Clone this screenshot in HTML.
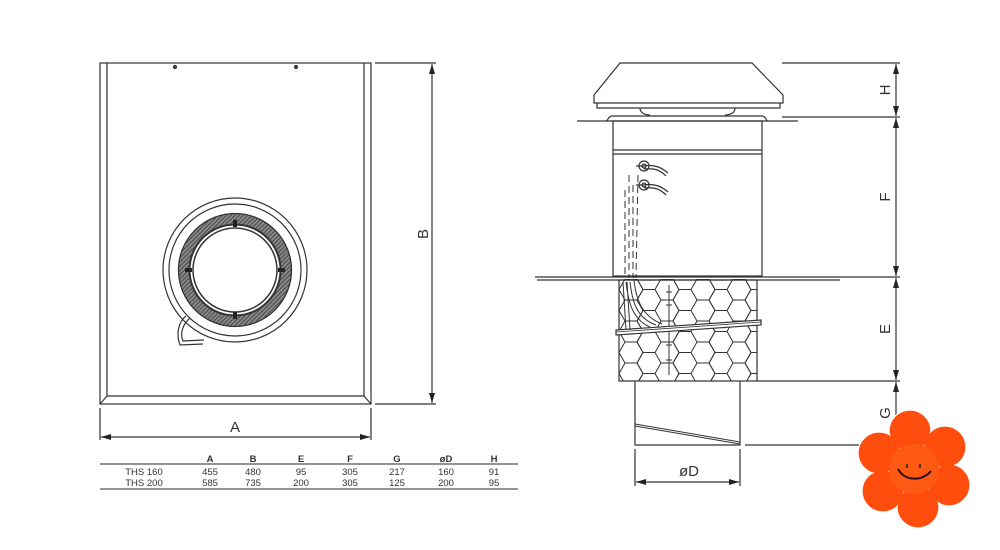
<!DOCTYPE html>
<html><head><meta charset="utf-8"><style>
html,body{margin:0;padding:0;background:#fff;width:1000px;height:550px;overflow:hidden}
svg{display:block}
text{font-family:"Liberation Sans",sans-serif;fill:#333}
</style></head><body>
<svg width="1000" height="550" viewBox="0 0 1000 550" xmlns="http://www.w3.org/2000/svg">
<defs>
<marker id="ar" viewBox="0 0 10 6" refX="10" refY="3" markerWidth="10" markerHeight="6" orient="auto-start-reverse" markerUnits="userSpaceOnUse"><path d="M0,0 L10,3 L0,6z" fill="#222"/></marker>
<pattern id="hatch" width="3" height="3" patternUnits="userSpaceOnUse" patternTransform="rotate(45)"><rect width="3" height="3" fill="#888"/><line x1="0" y1="0" x2="0" y2="3" stroke="#333" stroke-width="1.5"/></pattern>
<pattern id="hex" width="36" height="21" patternUnits="userSpaceOnUse" x="619" y="279">
<path d="M0,10.5 L6,0 L18,0 L24,10.5 L18,21 L6,21 Z M24,10.5 L36,10.5" fill="none" stroke="#333" stroke-width="1"/>
<path d="M18,0 L24,10.5 M18,21 L24,10.5" fill="none" stroke="#333" stroke-width="1"/>
</pattern>
<clipPath id="hc"><rect x="619" y="279" width="138" height="102"/></clipPath>
</defs>
<g stroke="#333" fill="none" stroke-width="1.2">
<rect x="100" y="63" width="271" height="341"/>
<path d="M107,63 L107,396 L364,396 L364,63"/>
<path d="M100,404 L107,396 M371,404 L364,396"/>
<circle cx="175" cy="67" r="1.5" fill="#555"/><circle cx="296" cy="67" r="1.5" fill="#555"/>
<circle cx="235" cy="270" r="72"/>
<circle cx="235" cy="270" r="66"/>
<circle cx="235" cy="270" r="51" stroke="url(#hatch)" stroke-width="11"/>
<circle cx="235" cy="270" r="56.5" stroke-width="1.3"/>
<circle cx="235" cy="270" r="45.5" stroke-width="2"/>
<circle cx="235" cy="270" r="42" stroke-width="1.5"/>
<g fill="#222" stroke="none"><rect x="233" y="220" width="4" height="7"/><rect x="233" y="312" width="4" height="7"/><rect x="185" y="268" width="7" height="4"/><rect x="278" y="268" width="7" height="4"/></g>
<path d="M186,316 C178,322 176,335 180,345 L203,344 M190,318 C182,325 180,334 183,341 L204,340"/>
<path d="M375,63 L436,63 M375,404 L436,404 M100,408 L100,440 M371,408 L371,440"/>
<line x1="432" y1="64" x2="432" y2="403" marker-start="url(#ar)" marker-end="url(#ar)"/>
<line x1="101" y1="437" x2="370" y2="437" marker-start="url(#ar)" marker-end="url(#ar)"/>
<path d="M100,464 L518,464 M100,489 L518,489" stroke="#555"/>
<path d="M620,63 L752,63 L783,95 L783,103 L594,103 L594,95 Z"/>
<path d="M597,103 L597,108 L780,108 L780,103"/>
<path d="M640,108 C640,113 645,115 650,115 M735,108 C735,113 730,115 725,115"/>
<path d="M577,121 L798,121 M612,116 L762,116 M612,116 C608,116 608,121 606,121 M762,116 C766,116 766,121 768,121"/>
<path d="M782,63 L900,63 M782,117 L900,117"/>
<rect x="613" y="121" width="149" height="155"/>
<path d="M613,150 L762,150 M613,154 L762,154"/>
<path d="M535,277 L900,277 M537,280 L840,280"/>
<rect x="619" y="280" width="138" height="101"/>
<rect x="619" y="279" width="138" height="102" fill="url(#hex)" stroke="none" clip-path="url(#hc)"/>
<path d="M757,381 L900,381"/>
<path d="M669,285 L669,375 M666,292 L672,292 M666,305 L672,305 M666,345 L672,345 M666,360 L672,360" stroke-width="1"/>
<path d="M616,330 L761,320 L761,325 L616,335 Z" fill="#fff"/>
<path d="M616,332 L761,322" stroke-width="0.8"/>
<path d="M626,282 C628,300 632,320 650,327 M630,282 C632,300 636,318 656,325 M634,280 C636,300 642,316 662,324 M623,282 L626,330 M627,282 L630,330" stroke-width="1"/>
<path d="M625,190 L625,278 M629,175 L629,278 M633,185 L633,278 M638,175 L636,278" stroke-dasharray="7,4" stroke-width="1"/>
<circle cx="644" cy="166" r="5"/><circle cx="644" cy="166" r="2"/>
<circle cx="644" cy="185" r="5"/><circle cx="644" cy="185" r="2"/>
<path d="M636,166 L644,166 C655,164 662,168 668,173 M644,169 C655,168 660,170 666,176 M636,185 L644,185 C655,183 662,187 668,192 M644,188 C655,187 660,189 666,195"/>
<path d="M635,381 L635,445 L740,445 L740,381 M745,445 L900,445"/>
<path d="M635,424 L740,442 M635,426 L740,444" stroke-width="1"/>
<path d="M635,449 L635,486 M740,449 L740,486"/>
<line x1="636" y1="482" x2="739" y2="482" marker-start="url(#ar)" marker-end="url(#ar)"/>
<line x1="896" y1="64" x2="896" y2="116" marker-start="url(#ar)" marker-end="url(#ar)"/>
<line x1="896" y1="118" x2="896" y2="276" marker-start="url(#ar)" marker-end="url(#ar)"/>
<line x1="896" y1="278" x2="896" y2="380" marker-start="url(#ar)" marker-end="url(#ar)"/>
<line x1="896" y1="382" x2="896" y2="444" marker-start="url(#ar)" marker-end="url(#ar)"/>
</g>
<g font-size="15">
<text x="235" y="432" text-anchor="middle">A</text>
<text x="689" y="476" text-anchor="middle">øD</text>
<text transform="translate(428,234) rotate(-90)" text-anchor="middle">B</text>
<text transform="translate(890,90) rotate(-90)" text-anchor="middle">H</text>
<text transform="translate(890,197) rotate(-90)" text-anchor="middle">F</text>
<text transform="translate(890,329) rotate(-90)" text-anchor="middle">E</text>
<text transform="translate(890,413) rotate(-90)" text-anchor="middle">G</text>
</g>
<g font-size="9.5" text-anchor="middle">
<text x="210" y="462" font-weight="bold">A</text><text x="253" y="462" font-weight="bold">B</text><text x="301" y="462" font-weight="bold">E</text><text x="350" y="462" font-weight="bold">F</text><text x="397" y="462" font-weight="bold">G</text><text x="446" y="462" font-weight="bold">øD</text><text x="494" y="462" font-weight="bold">H</text>
<text x="144" y="475">THS 160</text><text x="210" y="475">455</text><text x="253" y="475">480</text><text x="301" y="475">95</text><text x="350" y="475">305</text><text x="397" y="475">217</text><text x="446" y="475">160</text><text x="494" y="475">91</text>
<text x="144" y="486">THS 200</text><text x="210" y="486">585</text><text x="253" y="486">735</text><text x="301" y="486">200</text><text x="350" y="486">305</text><text x="397" y="486">125</text><text x="446" y="486">200</text><text x="494" y="486">95</text>
</g>
<g transform="translate(914,469)">
<g fill="#ff4d0d" stroke="#fff" stroke-width="1.2">
<circle cx="-4" cy="-38" r="21"/><circle cx="31" cy="-22" r="21"/><circle cx="35" cy="16" r="21"/><circle cx="4" cy="38" r="21"/><circle cx="-31" cy="22" r="21"/><circle cx="-35" cy="-16" r="21"/>
</g>
<g fill="#ff4d0d"><circle cx="-4" cy="-38" r="20"/><circle cx="31" cy="-22" r="20"/><circle cx="35" cy="16" r="20"/><circle cx="4" cy="38" r="20"/><circle cx="-31" cy="22" r="20"/><circle cx="-35" cy="-16" r="20"/></g>
<circle r="25" fill="#ff5a14"/>
<path d="M-7,-5 L-7,-1 M6,-5 L6,-1" stroke="#222" stroke-width="1.5"/>
<path d="M-16,0 C-10,12 8,13 17,2" stroke="#2a1020" stroke-width="2" fill="none"/>
</g>
</svg>
</body></html>
